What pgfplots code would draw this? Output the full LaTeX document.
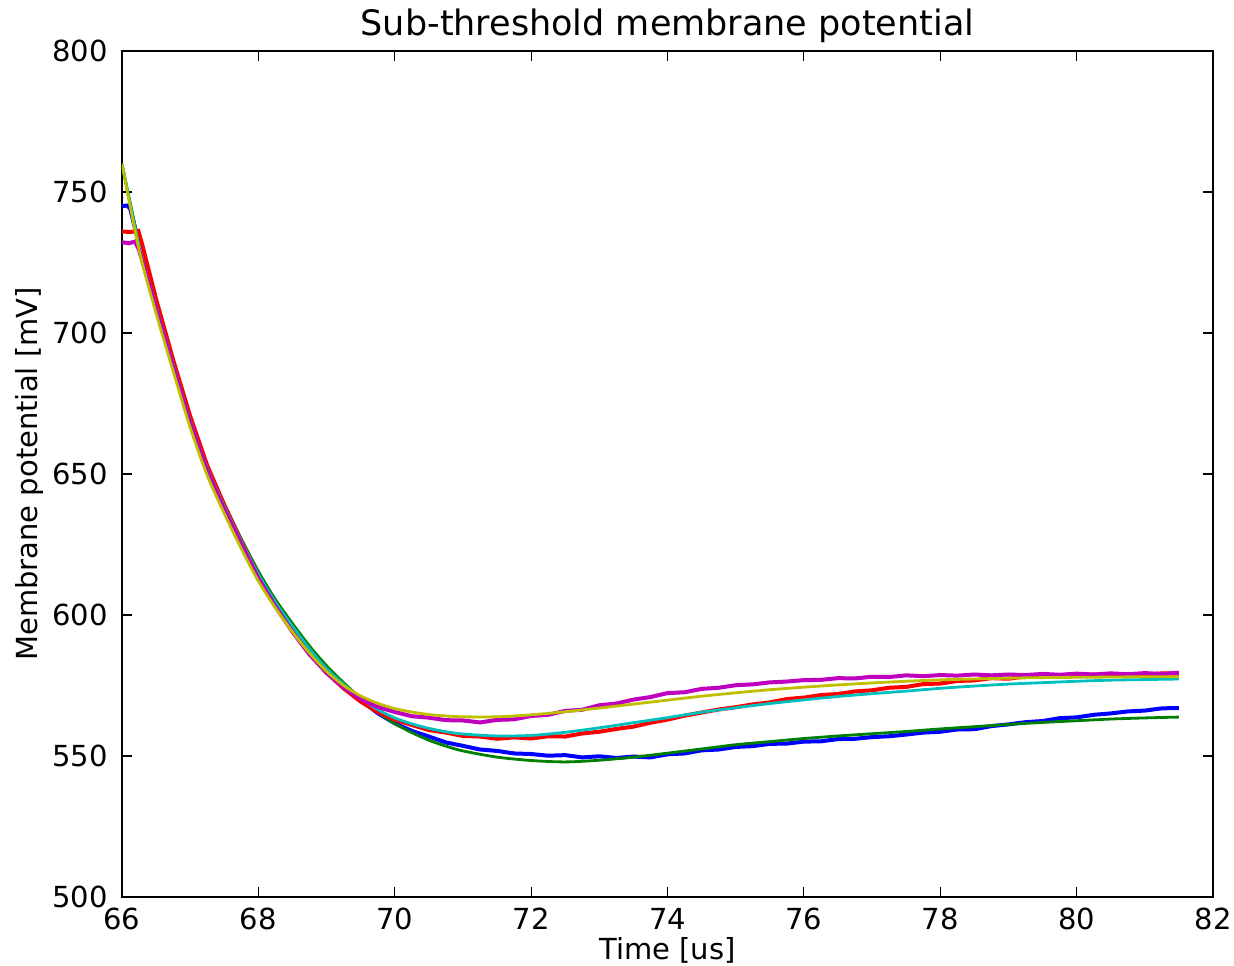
\documentclass[border=0pt]{standalone}
\usepackage{fontspec}
\setmainfont{DejaVu Sans}
\usepackage{pgfplots}
\pgfplotsset{compat=1.18}
\definecolor{mplb}{rgb}{0,0,1}
\definecolor{mplg}{rgb}{0,0.5,0}
\definecolor{mplr}{rgb}{1,0,0}
\definecolor{mplc}{rgb}{0,0.75,0.75}
\definecolor{mplm}{rgb}{0.75,0,0.75}
\definecolor{mply}{rgb}{0.75,0.75,0}
\begin{document}
\begin{tikzpicture}
\begin{axis}[name=ax,
  scale only axis, width=545.5pt, height=423pt,
  xmin=66, xmax=82, ymin=500, ymax=800,
  xtick={66,68,...,82}, ytick={500,550,...,800},
  tick align=inside, major tick length=5pt,
  axis line style={line width=0.9pt}, every tick/.style={black, line width=0.6pt},
  /pgf/number format/assume math mode=true,
  /pgf/number format/set thousands separator={},
  ticklabel style={font=\fontsize{14.5pt}{17pt}\selectfont},
  xticklabel style={anchor=center, yshift=-11pt, inner sep=0pt},
  yticklabel style={anchor=east, xshift=-7pt, inner sep=0pt},
  every axis title shift=0pt,
  title={Sub-threshold membrane potential},
  title style={font=\fontsize{17.5pt}{21pt}\selectfont, at={(axis description cs:0.5,1)}, anchor=center, yshift=12.5pt},
  xlabel={Time [us]},
  xlabel style={font=\fontsize{14.5pt}{17pt}\selectfont, at={(axis description cs:0.5,0)}, anchor=center, yshift=-26.5pt},
  ylabel={Membrane potential [mV]},
  every axis y label/.style={font=\fontsize{14.5pt}{17pt}\selectfont, at={(axis description cs:0,0.5)}, anchor=center, xshift=-46pt, rotate=90},
  clip=true,
]
% blue data
\addplot[mplb, line width=2pt] table {
66.00 745.0
66.08 745.2
66.12 744.0
66.25 731.5
66.50 709.5
66.75 688.5
67.00 668.5
67.25 651.5
67.50 638.0
67.75 625.5
68.00 613.5
68.25 604.0
68.50 595.5
68.75 587.5
69.00 580.5
69.25 575.0
69.50 569.8
69.75 565.2
70.00 561.6
70.25 558.9
70.50 556.9
70.75 554.8
71.00 553.6
71.25 552.3
71.50 551.8
71.75 550.9
72.00 550.7
72.25 550.1
72.50 550.3
72.75 549.5
73.00 549.9
73.25 549.3
73.50 549.8
73.75 549.5
74.00 550.6
74.25 550.9
74.50 552.0
74.75 552.3
75.00 553.2
75.25 553.5
75.50 554.3
75.75 554.4
76.00 555.1
76.25 555.2
76.50 556.0
76.75 556.1
77.00 556.7
77.25 557.0
77.50 557.6
77.75 558.3
78.00 558.6
78.25 559.4
78.50 559.5
78.75 560.6
79.00 561.2
79.25 562.0
79.50 562.4
79.75 563.4
80.00 563.7
80.25 564.6
80.50 565.1
80.75 565.8
81.00 566.1
81.25 566.9
81.50 567.0
};
% green fit
\addplot[mplg, line width=1.4pt, smooth] table {
66.00 760.0
66.25 732.0
66.50 710.5
66.75 690.0
67.00 670.0
67.25 653.0
67.50 639.5
67.75 627.0
68.00 615.5
68.25 605.5
68.50 597.0
68.75 589.0
69.00 582.0
69.25 576.0
69.50 570.5
69.75 565.5
70.00 561.5
70.25 558.3
70.50 555.6
70.75 553.5
71.00 551.8
71.50 549.6
72.00 548.4
72.50 547.9
73.00 548.5
73.50 549.6
74.00 551.0
74.50 552.5
75.00 554.0
75.50 555.1
76.00 556.2
76.50 557.1
77.00 557.9
77.50 558.7
78.00 559.6
78.50 560.4
79.00 561.2
79.50 561.9
80.00 562.5
80.50 563.1
81.00 563.5
81.50 563.8
};
% red data
\addplot[mplr, line width=2pt] table {
66.00 736.0
66.12 735.8
66.24 736.2
66.30 731.0
66.50 712.0
66.75 690.5
67.00 670.5
67.25 653.0
67.50 639.0
67.75 626.0
68.00 614.0
68.25 603.5
68.50 594.5
68.75 586.5
69.00 579.5
69.25 574.0
69.50 569.3
69.75 565.6
70.00 562.9
70.25 561.0
70.50 559.2
70.75 558.3
71.00 557.1
71.25 556.9
71.50 556.1
71.75 556.6
72.00 556.2
72.25 557.0
72.50 556.9
72.75 558.0
73.00 558.6
73.25 559.6
73.50 560.4
73.75 561.8
74.00 562.9
74.25 564.3
74.50 565.4
74.75 566.5
75.00 567.3
75.25 568.3
75.50 569.0
75.75 570.2
76.00 570.7
76.25 571.6
76.50 572.0
76.75 572.9
77.00 573.3
77.25 574.2
77.50 574.5
77.75 575.5
78.00 575.7
78.25 576.6
78.50 576.8
78.75 577.6
79.00 577.4
79.25 578.2
79.50 578.0
79.75 578.6
80.00 578.3
80.25 578.9
80.50 578.6
80.75 579.1
81.00 578.8
81.25 579.3
81.50 579.2
};
% cyan fit
\addplot[mplc, line width=1.4pt, smooth] table {
66.00 760.0
66.25 731.0
66.50 709.5
66.75 689.0
67.00 669.0
67.25 652.0
67.50 638.5
67.75 626.0
68.00 614.5
68.25 604.5
68.50 596.0
68.75 588.0
69.00 581.0
69.25 575.5
69.50 570.5
69.75 566.5
70.00 563.5
70.25 561.4
70.50 559.8
70.75 558.6
71.00 557.8
71.50 557.1
72.00 557.3
72.50 558.4
73.00 560.0
73.50 561.8
74.00 563.6
74.50 565.5
75.00 567.1
75.50 568.6
76.00 569.9
76.50 571.1
77.00 572.1
77.50 573.0
78.00 574.0
78.50 574.8
79.00 575.5
79.50 576.0
80.00 576.5
80.50 576.9
81.00 577.1
81.50 577.3
};
% magenta data
\addplot[mplm, line width=2pt] table {
66.00 732.2
66.10 731.8
66.19 732.4
66.25 729.5
66.50 708.5
66.75 688.0
67.00 668.0
67.25 651.0
67.50 637.5
67.75 625.0
68.00 613.0
68.25 603.0
68.50 594.0
68.75 586.0
69.00 579.5
69.25 574.3
69.50 570.2
69.75 567.4
70.00 565.6
70.25 564.1
70.50 563.6
70.75 562.7
71.00 562.6
71.25 561.9
71.50 562.8
71.75 563.0
72.00 564.2
72.25 564.6
72.50 566.0
72.75 566.4
73.00 568.0
73.25 568.6
73.50 570.0
73.75 570.9
74.00 572.3
74.25 572.6
74.50 573.8
74.75 574.2
75.00 575.1
75.25 575.4
75.50 576.1
75.75 576.4
76.00 576.9
76.25 577.0
76.50 577.6
76.75 577.5
77.00 578.1
77.25 578.0
77.50 578.6
77.75 578.3
78.00 578.7
78.25 578.5
78.50 578.9
78.75 578.6
79.00 578.9
79.25 578.7
79.50 579.1
79.75 578.8
80.00 579.2
80.25 578.9
80.50 579.3
80.75 579.0
81.00 579.4
81.25 579.1
81.50 579.5
};
% yellow fit
\addplot[mply, line width=1.4pt, smooth] table {
66.00 760.0
66.25 729.5
66.50 707.0
66.75 686.5
67.00 666.5
67.25 649.5
67.50 636.0
67.75 623.5
68.00 612.0
68.25 602.5
68.50 594.0
68.75 586.5
69.00 580.0
69.25 575.0
69.50 571.3
69.75 568.7
70.00 566.8
70.25 565.6
70.50 564.7
70.75 564.2
71.00 563.9
71.50 563.9
72.00 564.6
72.50 565.7
73.00 567.0
73.50 568.4
74.00 569.8
74.50 571.2
75.00 572.4
75.50 573.5
76.00 574.4
76.50 575.2
77.00 575.9
77.50 576.5
78.00 577.0
78.50 577.3
79.00 577.6
79.50 577.8
80.00 577.9
80.50 578.0
81.00 578.1
81.50 578.1
};
\end{axis}
\pgfresetboundingbox
\path ([xshift=-61pt,yshift=-34.5pt]ax.south west) rectangle ([xshift=10.5pt,yshift=25.5pt]ax.north east);
\end{tikzpicture}
\end{document}
